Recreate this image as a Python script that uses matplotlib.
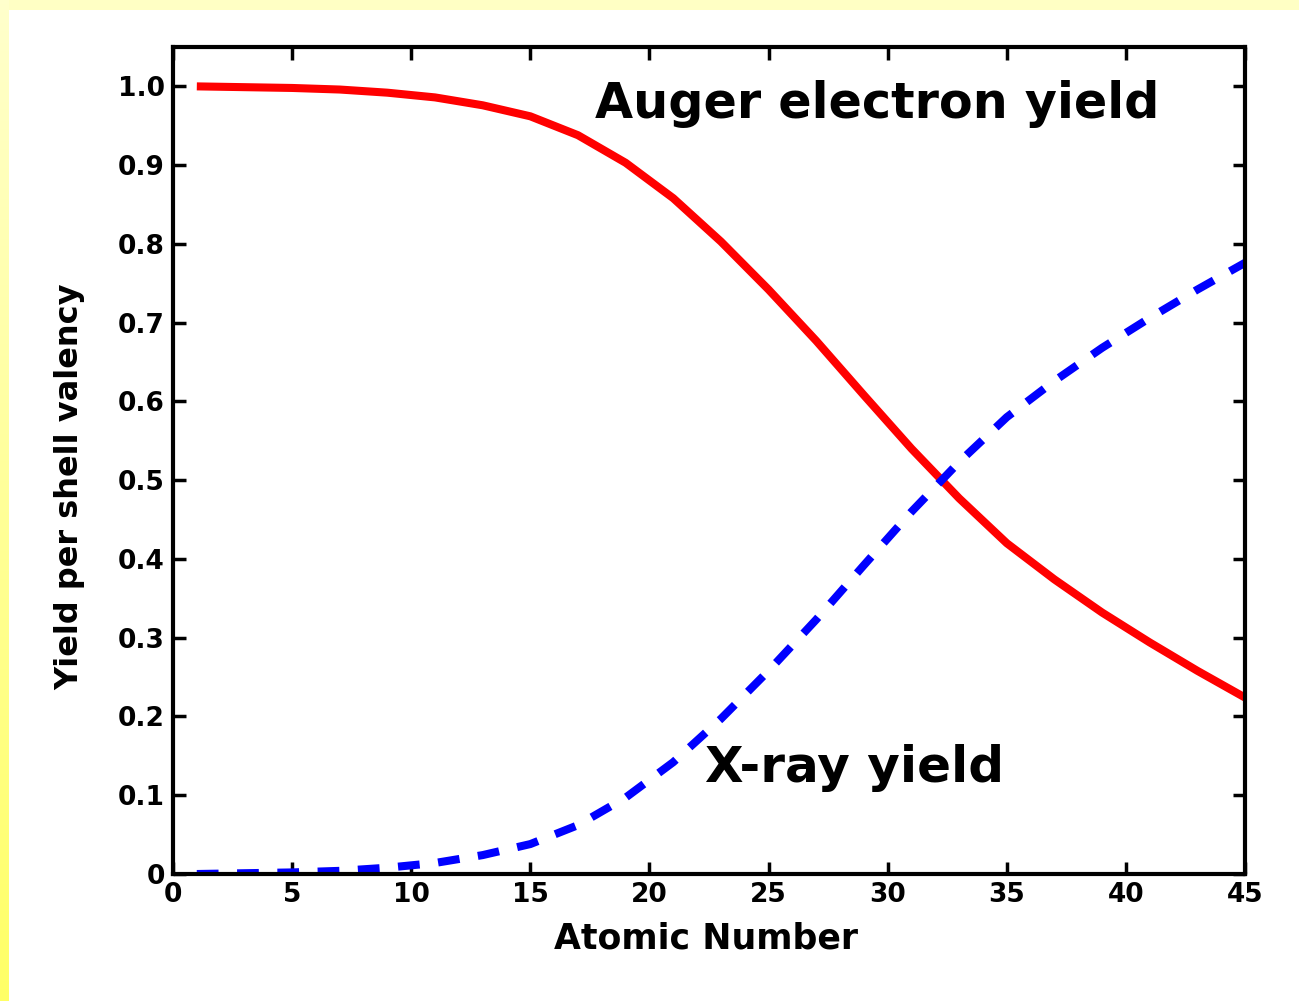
import numpy as np
import matplotlib
matplotlib.use("Agg")
import matplotlib.pyplot as plt
from matplotlib.colors import LinearSegmentedColormap

# Atomic numbers and fluorescence / Auger yields per shell valency
atomic_number = [1, 3, 5, 7, 9, 11, 13, 15, 17, 19, 21, 23,
                 25, 27, 29, 31, 33, 35, 37, 39, 41, 43, 45]
auger_yield = [1.000, 0.999, 0.998, 0.996, 0.992, 0.986, 0.976, 0.962,
               0.938, 0.903, 0.858, 0.803, 0.742, 0.677, 0.608, 0.540,
               0.477, 0.420, 0.374, 0.332, 0.294, 0.258, 0.224]
xray_yield = [0.000, 0.001, 0.002, 0.004, 0.008, 0.014, 0.024, 0.038,
              0.062, 0.097, 0.142, 0.197, 0.258, 0.323, 0.392, 0.460,
              0.523, 0.580, 0.626, 0.668, 0.706, 0.742, 0.776]

x_ticks = [0, 5, 10, 15, 20, 25, 30, 35, 40, 45]
y_ticks = [0, 0.1, 0.2, 0.3, 0.4, 0.5, 0.6, 0.7, 0.8, 0.9, 1.0]
y_tick_labels = ["0", "0.1", "0.2", "0.3", "0.4", "0.5",
                 "0.6", "0.7", "0.8", "0.9", "1.0"]

W, H = 1299, 1001
fig = plt.figure(figsize=(W / 100, H / 100), dpi=100)
fig.patch.set_facecolor("white")

# Slide frame: pale yellow strip on top, yellow gradient strip on the left
frame = fig.add_axes([0, 0, 1, 1], zorder=-1)
frame.axis("off")
frame.add_patch(plt.Rectangle((0, 0), W, 10, color="#ffffc4", lw=0))
grad = LinearSegmentedColormap.from_list("side", ["#ffffcc", "#ffff66"])
frame.imshow(np.linspace(0, 1, 256).reshape(-1, 1), cmap=grad, aspect="auto",
             extent=(0, 9, H, 0), zorder=1)
frame.set_xlim(0, W)
frame.set_ylim(H, 0)

ax = fig.add_axes([173 / W, 1 - 874 / H, (1245 - 173) / W, (874 - 47) / H])
ax.plot(atomic_number, auger_yield, color="#ff0000", lw=5.8,
        solid_capstyle="butt", solid_joinstyle="round")
ax.plot(atomic_number, xray_yield, color="#0000ff", lw=5.8,
        dashes=(2.7, 2.3), dash_capstyle="butt")

ax.set_xlim(0, 45)
ax.set_ylim(0, 1.05)
ax.set_xticks(x_ticks)
ax.set_xticklabels([str(t) for t in x_ticks])
ax.set_yticks(y_ticks)
ax.set_yticklabels(y_tick_labels)

for s in ax.spines.values():
    s.set_linewidth(3.0)
ax.tick_params(direction="in", length=9, width=2.5, top=True, right=True,
               labelsize=19, pad=6)
for lab in ax.get_xticklabels() + ax.get_yticklabels():
    lab.set_fontweight("bold")

ax.set_xlabel("Atomic Number", fontsize=25, fontweight="bold")
ax.xaxis.set_label_coords(0.497, -0.057)
ax.set_ylabel("Yield per shell valency", fontsize=23, fontweight="bold")
ax.yaxis.set_label_coords(-0.082, 0.468)

ax.text(29.55, 0.978, "Auger electron yield", fontsize=35.5,
        fontweight="bold", ha="center", va="center")
ax.text(28.63, 0.135, "X-ray yield", fontsize=36, fontweight="bold",
        ha="center", va="center")

fig.savefig("out.png", dpi=100, facecolor=fig.get_facecolor())
